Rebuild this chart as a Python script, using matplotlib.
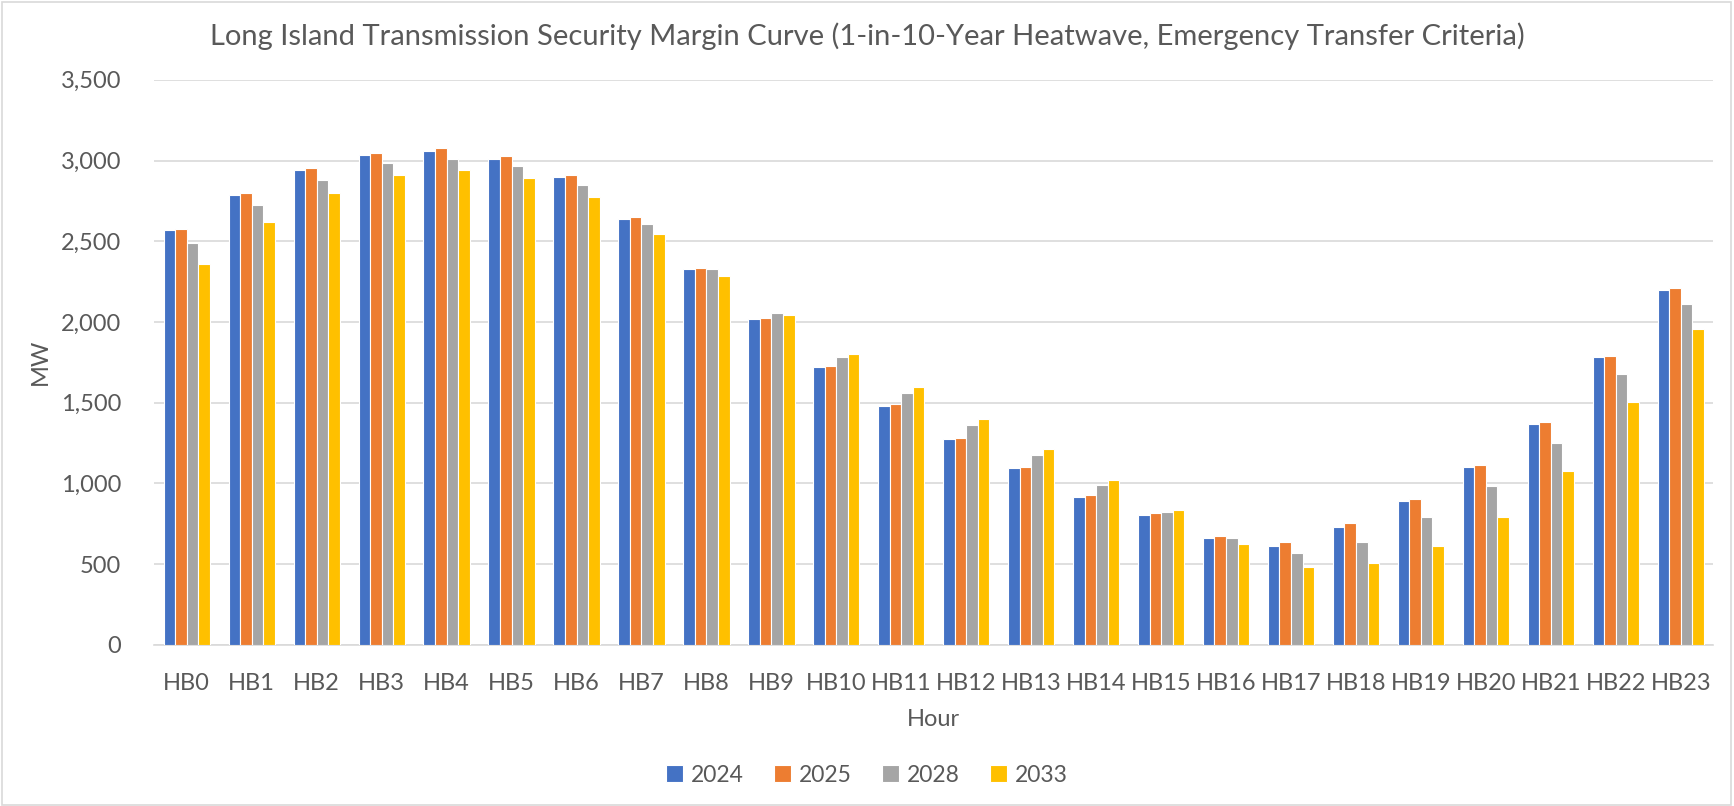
# Long Island transmission security margin, grouped bars by hour

import numpy as np
import matplotlib.pyplot as plt
from matplotlib.patches import Rectangle

hours = ["HB%d" % i for i in range(24)]
years = ["2024", "2025", "2028", "2033"]

mw_2024 = [2568, 2789, 2940, 3033, 3056, 3010, 2897, 2640, 2326, 2020, 1720, 1482,
           1275, 1094, 917, 801, 659, 615, 731, 888, 1103, 1367, 1780, 2195]
mw_2025 = [2576, 2797, 2954, 3049, 3076, 3027, 2913, 2649, 2332, 2025, 1725, 1490,
           1282, 1103, 929, 816, 673, 638, 752, 902, 1115, 1381, 1790, 2210]
mw_2028 = [2490, 2725, 2882, 2983, 3010, 2963, 2847, 2605, 2325, 2055, 1782, 1562,
           1362, 1173, 987, 822, 659, 566, 638, 789, 981, 1253, 1675, 2110]
mw_2033 = [2361, 2618, 2797, 2913, 2940, 2890, 2777, 2547, 2282, 2040, 1800, 1597,
           1397, 1214, 1022, 836, 624, 479, 508, 609, 793, 1074, 1501, 1955]

colors = ["#4472C4", "#ED7D31", "#A5A5A5", "#FFC000"]
txt = "#595959"

plt.rcParams['font.family'] = ['Lato', 'DejaVu Sans']

fig = plt.figure(figsize=(17.34, 8.06), dpi=100)
ax = fig.add_axes([0.089, 0.200, 0.899, 0.701])

x = np.arange(len(hours))
w = 0.178
for i, (yr, vals) in enumerate(zip(years, [mw_2024, mw_2025, mw_2028, mw_2033])):
    ax.bar(x + (i - 1.5) * w, vals, width=w, color=colors[i], edgecolor="white",
           linewidth=0.8, label=yr, zorder=3)

ax.set_xlim(-0.5, len(hours) - 0.5)
ax.set_ylim(0, 3500)
ax.set_yticks(range(0, 3501, 500))
ax.set_yticklabels(["{:,}".format(v) for v in range(0, 3501, 500)])
ax.set_xticks(x)
ax.set_xticklabels(hours)
ax.grid(axis="y", color="#D9D9D9", linewidth=1.2, zorder=0)
for s in ["top", "right", "left"]:
    ax.spines[s].set_visible(False)
ax.spines["bottom"].set_color("#D9D9D9")
ax.spines["bottom"].set_linewidth(1.2)
ax.tick_params(length=0, colors=txt, labelsize=17)
ax.tick_params(axis="y", pad=24)
ax.tick_params(axis="x", pad=20)

ax.set_ylabel("MW", color=txt, fontsize=17)
ax.yaxis.set_label_coords(-0.073, 0.5)
ax.yaxis.label.set_va("center")
ax.set_xlabel("Hour", color=txt, fontsize=17)
ax.xaxis.set_label_coords(0.5, -0.133)
ax.xaxis.label.set_va("center")
fig.suptitle("Long Island Transmission Security Margin Curve (1-in-10-Year Heatwave, Emergency Transfer Criteria)",
             color=txt, fontsize=21, y=0.955, va="center")

leg = fig.legend(loc="center", bbox_to_anchor=(0.5, 0.038), ncol=4, frameon=False,
                 fontsize=16.5, handlelength=0.75, handleheight=0.75, handletextpad=0.35,
                 columnspacing=1.3)
for t in leg.get_texts():
    t.set_color(txt)

fig.patches.append(Rectangle((0.001, 0.001), 0.997, 0.997, transform=fig.transFigure,
                             fill=False, edgecolor="#D9D9D9", linewidth=1.2))

fig.savefig("out.png", dpi=100)
